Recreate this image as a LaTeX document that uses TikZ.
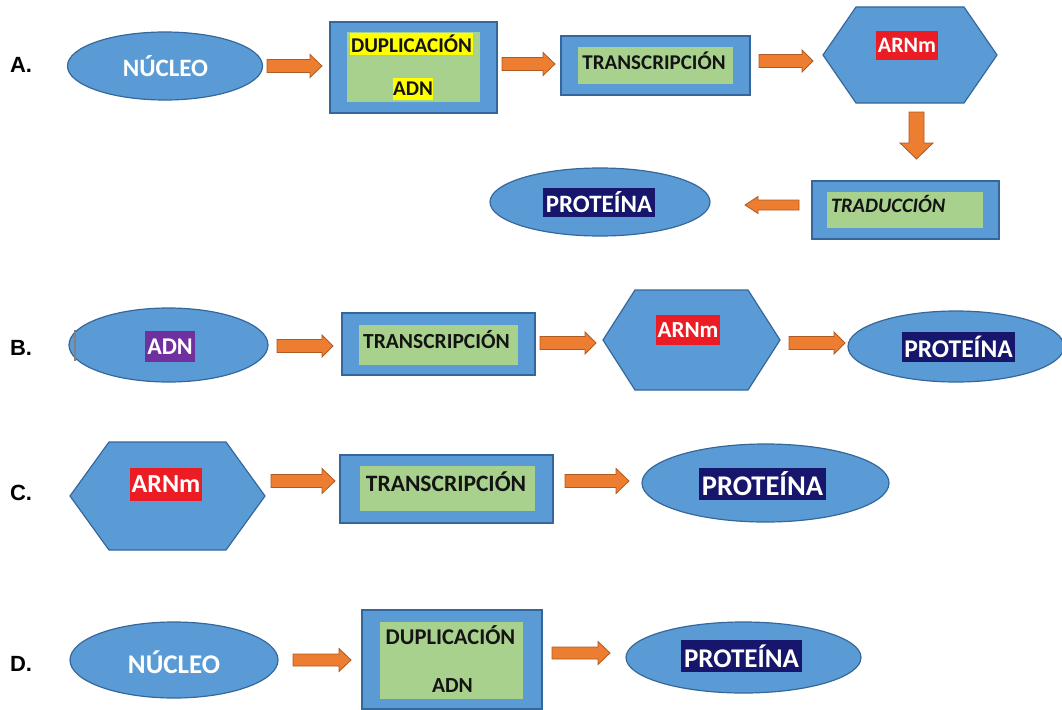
\documentclass[tikz,border=0pt]{standalone}
\usepackage{fontspec}
\setmainfont{Carlito}
\newfontfamily\letterfont{Liberation Sans}
\usetikzlibrary{calc,shapes.geometric}

\definecolor{shapeblue}{RGB}{91,155,213}
\definecolor{blueedge}{RGB}{52,104,156}
\definecolor{boxgreen}{RGB}{169,209,142}
\definecolor{arroworange}{RGB}{237,125,49}
\definecolor{arrowedge}{RGB}{174,90,33}
\definecolor{tagnavy}{RGB}{22,22,108}
\definecolor{tagred}{RGB}{236,28,36}
\definecolor{tagpurple}{RGB}{112,48,160}
\definecolor{tagyellow}{RGB}{255,255,0}
\definecolor{inktext}{RGB}{20,20,20}

% bold sans text at a given size
\newcommand\bsz[1]{\fontsize{#1pt}{#1pt}\selectfont\bfseries}

\tikzset{
  x=1pt, y=-1pt,
  every node/.style={inner sep=0pt, outer sep=0pt},
  oval/.style={ellipse, draw=blueedge, line width=1.2pt, fill=shapeblue},
  outerbox/.style={rectangle, draw=blueedge, line width=1.8pt, fill=shapeblue},
  innerbox/.style={rectangle, fill=boxgreen},
  hexfill/.style={draw=blueedge, line width=1.2pt, fill=shapeblue, line join=miter},
  tag/.style={text=white, align=center},
  boxtext/.style={text=inktext},
  rowletter/.style={font=\letterfont\fontsize{22pt}{22pt}\selectfont\bfseries, text=black},
  arrowbody/.style={fill=arroworange, draw=arrowedge, line width=0.8pt, line join=miter},
}

% hexagon drawn over the bounding box of a (blank) node
\newcommand\hexagonover[2]{%
  \draw[hexfill] ($(#1.north west)+(#2,0)$) -- ($(#1.north east)+(-#2,0)$) -- (#1.east)
    -- ($(#1.south east)+(-#2,0)$) -- ($(#1.south west)+(#2,0)$) -- (#1.west) -- cycle;}

% block arrow from a start point towards a target, with half shaft width,
% half head width and head length
\newcommand\blockarrowpath{%
  \coordinate (ba-n) at ($(ba-e)!\baL!(ba-s)$);
  \draw[arrowbody] ($(ba-s)!\bah!90:(ba-e)$) -- ($(ba-n)!\bah!90:(ba-e)$)
    -- ($(ba-n)!\baH!90:(ba-e)$) -- (ba-e) -- ($(ba-n)!\baH!-90:(ba-e)$)
    -- ($(ba-n)!\bah!-90:(ba-e)$) -- ($(ba-s)!\bah!-90:(ba-e)$) -- cycle;}
\newcommand\harrow[5]{%
  \coordinate (ba-s) at (#1); \coordinate (ba-t) at (#2);
  \coordinate (ba-e) at (ba-t |- ba-s);
  \def\bah{#3}\def\baH{#4}\def\baL{#5}\blockarrowpath}
\newcommand\varrow[5]{%
  \coordinate (ba-s) at (#1); \coordinate (ba-t) at (#2);
  \coordinate (ba-e) at (ba-s |- ba-t);
  \def\bah{#3}\def\baH{#4}\def\baL{#5}\blockarrowpath}

\begin{document}
\begin{tikzpicture}
\useasboundingbox (0,0) rectangle (1062,709);
\fill[white] (0,0) rectangle (1062,709);

% ---------------- row A ----------------
\node[rowletter] (letA) at (21,65) {A.};
\node[oval, minimum width=195, minimum height=68] (nucA) at (165,66) {};
\node[tag, font=\bsz{25}] (nucAt) at (165.5,66) {NÚCLEO};

\node[outerbox, minimum width=167, minimum height=91] (dupA) at (413.5,67.5) {};
\node[innerbox, minimum width=133, minimum height=70] (dupAin) at (413.5,67) {};
\node[boxtext, fill=tagyellow, minimum width=123, minimum height=22, font=\bsz{21}] (dupAt) at (411.5,44) {DUPLICACIÓN};
\node[boxtext, fill=tagyellow, minimum width=40, minimum height=22, font=\bsz{21}] (dupAb) at (413,89) {ADN};

\node[outerbox, minimum width=189, minimum height=59] (traA) at (655.5,65.5) {};
\node[innerbox, minimum width=155, minimum height=37] (traAin) at (655.5,65.5) {};
\node[boxtext, font=\bsz{21}] (traAt) at (654,61) {TRANSCRIPCIÓN};

\node[minimum width=174, minimum height=96] (hexA) at (910,55) {};
\hexagonover{hexA}{33}
\node[tag, fill=tagred, minimum width=62, minimum height=29, font=\bsz{22}] (arnA) at (907,45.5) {ARNm};

\node[outerbox, minimum width=187, minimum height=58] (tradA) at (905.5,210) {};
\node[innerbox, minimum width=156, minimum height=36] (tradAin) at (905,210) {};
\node[boxtext, anchor=west, font=\fontsize{20.5pt}{20.5pt}\selectfont\bfseries\itshape] (tradAt) at (831,204) {TRADUCCIÓN};

\node[oval, minimum width=220, minimum height=68] (protA) at (600,202) {};
\node[tag, fill=tagnavy, minimum width=112, minimum height=29, font=\bsz{25}] (protAt) at (599,202.5) {PROTEÍNA};

\harrow{$(nucA.east)+(4.5,0)$}{$(dupA.west)+(-8,0)$}{6.5pt}{11.5pt}{12pt}
\harrow{$(dupA.east)+(5,-3.5)$}{$(traA.west)+(-6,0)$}{6.5pt}{11.5pt}{12pt}
\harrow{$(traA.east)+(9,-4.5)$}{$(hexA.west)+(-10,0)$}{6.5pt}{11pt}{11pt}
\varrow{$(hexA.south)+(6.5,9)$}{$(tradA.north)+(0,-22)$}{7.5pt}{16.5pt}{16pt}
\harrow{$(tradA.west)+(-13,-5)$}{$(protA.east)+(35,0)$}{5pt}{8.5pt}{13pt}

% ---------------- row B ----------------
\node[rowletter] (letB) at (21,348) {B.};
\node[oval, minimum width=199, minimum height=74] (adnB) at (168.5,345) {};
\draw[gray, line width=1.4pt] (75,330) -- (75,361);
\node[tag, fill=tagpurple, minimum width=50, minimum height=31, font=\bsz{24}] (adnBt) at (170,346.5) {ADN};

\node[outerbox, minimum width=193, minimum height=62] (traB) at (438.5,344) {};
\node[innerbox, minimum width=159, minimum height=40] (traBin) at (438.5,345) {};
\node[boxtext, font=\bsz{21.5}] (traBt) at (436.5,340) {TRANSCRIPCIÓN};

\node[minimum width=177, minimum height=100] (hexB) at (691.5,340) {};
\hexagonover{hexB}{32}
\node[tag, fill=tagred, minimum width=64, minimum height=30, font=\bsz{23}] (arnB) at (688,330) {ARNm};

\node[oval, minimum width=216, minimum height=71] (protB) at (956,346.5) {};
\node[tag, fill=tagnavy, minimum width=113, minimum height=30, font=\bsz{25.5}] (protBt) at (958.5,347) {PROTEÍNA};

\harrow{$(adnB.east)+(9,1)$}{$(traB.west)+(-9,0)$}{6.5pt}{11pt}{11pt}
\harrow{$(traB.east)+(5,-1)$}{$(hexB.west)+(-7,0)$}{6.5pt}{11pt}{11pt}
\harrow{$(hexB.east)+(9,3)$}{$(protB.west)+(-3,0)$}{6.5pt}{11pt}{11pt}

% ---------------- row C ----------------
\node[rowletter] (letC) at (21,493) {C.};
\node[minimum width=195, minimum height=108] (hexC) at (167.5,496) {};
\hexagonover{hexC}{39}
\node[tag, fill=tagred, minimum width=72, minimum height=33, font=\bsz{26}] (arnC) at (166,484.5) {ARNm};

\node[outerbox, minimum width=213, minimum height=68] (traC) at (446.5,489) {};
\node[innerbox, minimum width=175, minimum height=45] (traCin) at (447.5,488.5) {};
\node[boxtext, font=\bsz{23.5}] (traCt) at (446,482) {TRANSCRIPCIÓN};

\node[oval, minimum width=247, minimum height=78] (protC) at (765.5,483) {};
\node[tag, fill=tagnavy, minimum width=127, minimum height=32, font=\bsz{28.5}] (protCt) at (762.5,484) {PROTEÍNA};

\harrow{$(hexC.east)+(6,-15)$}{$(traC.west)+(-5,0)$}{6.5pt}{12.5pt}{13pt}
\harrow{$(traC.east)+(12,-8)$}{$(protC.west)+(-13,0)$}{6.5pt}{12.5pt}{13pt}

% ---------------- row D ----------------
\node[rowletter] (letD) at (21,664) {D.};
\node[oval, minimum width=208, minimum height=76] (nucD) at (174,660) {};
\node[tag, font=\bsz{27}] (nucDt) at (174,662) {NÚCLEO};

\node[outerbox, minimum width=180, minimum height=99] (dupD) at (452,659.5) {};
\node[innerbox, minimum width=143, minimum height=77] (dupDin) at (451.5,660.5) {};
\node[boxtext, font=\bsz{22.5}] (dupDt) at (450.5,635) {DUPLICACIÓN};
\node[boxtext, font=\bsz{21.5}] (dupDb) at (452.5,686) {ADN};

\node[oval, minimum width=235, minimum height=71] (protD) at (743.5,657.5) {};
\node[tag, fill=tagnavy, minimum width=121, minimum height=32, font=\bsz{27}] (protDt) at (741.5,656) {PROTEÍNA};

\harrow{$(nucD.east)+(15,0)$}{$(dupD.west)+(-11,0)$}{6pt}{11.5pt}{12pt}
\harrow{$(dupD.east)+(10,-6.5)$}{$(protD.west)+(-16,0)$}{6pt}{11.5pt}{12pt}
\end{tikzpicture}
\end{document}
